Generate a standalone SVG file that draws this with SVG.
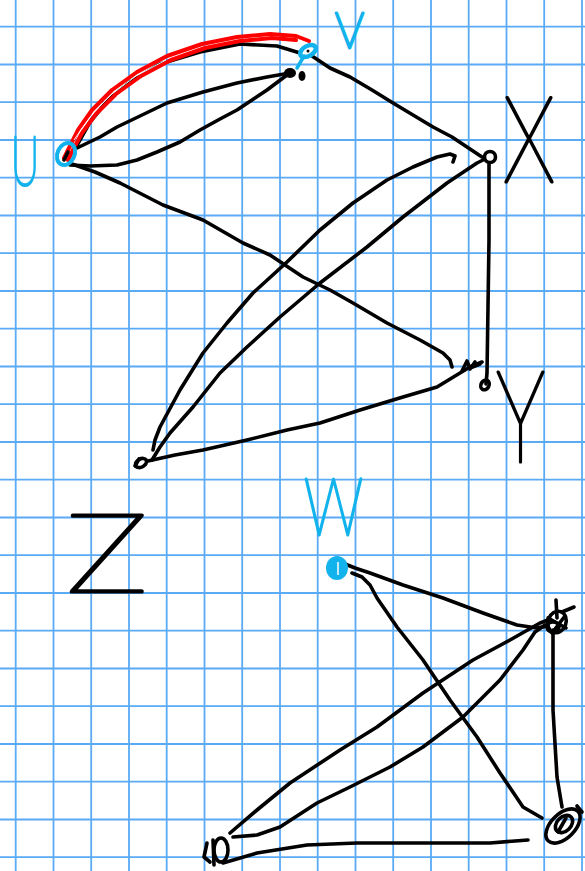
<svg xmlns="http://www.w3.org/2000/svg" width="585" height="871" viewBox="0 0 585 871">
<style>
.grid{stroke:#5aaaf5;stroke-width:1.8;fill:none}
.ink{stroke:#000;stroke-width:3.6;fill:none;stroke-linecap:round;stroke-linejoin:round}
.cy{stroke:#12b3ec;fill:none;stroke-linecap:round;stroke-linejoin:round}
.red{stroke:#ff0000;stroke-width:4;fill:none;stroke-linecap:round;stroke-linejoin:round}
.lbl{font-family:Lato,"Liberation Sans",sans-serif;font-weight:100;stroke-width:3.2;stroke-linejoin:round;stroke-linecap:round}
.lc{fill:#12b3ec;stroke:#12b3ec}
.lk{fill:#000;stroke:#000}
</style>
<rect width="585" height="871" fill="#fff"/>
<path class="grid" d="M15.7,0V871M53.5,0V871M91.2,0V871M129,0V871M166.7,0V871M204.5,0V871M242.2,0V871M280,0V871M317.7,0V871M355.5,0V871M393.2,0V871M431,0V871M468.7,0V871M506.5,0V871M544.2,0V871M582,0V871
M0,26.7H585M0,64.5H585M0,102.2H585M0,140H585M0,177.7H585M0,215.5H585M0,253.2H585M0,291H585M0,328.7H585M0,366.5H585M0,404.2H585M0,442H585M0,479.7H585M0,517.5H585M0,555.2H585M0,593H585M0,630.7H585M0,668.5H585M0,706.2H585M0,744H585M0,781.7H585M0,819.5H585M0,857.2H585"/>
<g id="connectors">
<path class="ink" d="M76,147 L90,122 L108,100 L130,82 L160,64 L200,52 L240,44 L277,46 L300,53"/>
<path class="red" d="M64,158 L70,146 L78,130 L92,110 L112,90 L137,72 L167,56 L202,44 L237,37 L270,34 L296,36 L309,41"/>
<path class="red" d="M68,160 L74,148 L82,133 L96,114 L116,94 L141,76 L171,60 L205,48 L240,41 L272,38 L296,40"/>
<path stroke="#fff" stroke-width="0.9" fill="none" d="M74,140 L82,128 L94,112 L112,94 L136,76 L166,60"/>
<path class="ink" d="M77,148 L100,137 L117,127 L140,116 L167,103 L203,92 L237,83 L267,77 L290,73"/>
<path class="ink" d="M70,165 L90,166 L117,165 L137,160 L157,152 L180,142 L200,130 L220,119 L237,110 L255,98 L267,90 L287,75"/>
<path class="ink" d="M312,56 L330,68 L350,77 L372,90 L393,103 L413,115 L433,127 L452,137 L467,147 L482,157"/>
<path class="ink" d="M72,164 L95,172 L120,183 L163,205 L203,220 L243,243 L270,255 L303,277 L330,290 L353,303 L387,323 L420,340 L443,353 L450,360 L452,367"/>
<path class="ink" d="M453,162 L455,156 L450,154 L437,157 L413,167 L387,180 L353,203 L320,230 L287,262 L253,293 L227,323 L203,353 L180,390 L160,427 L155,440 L153,450"/>
<path class="ink" d="M483,160 L477,163 L447,183 L403,217 L367,247 L320,283 L280,317 L247,347 L220,373 L193,407 L170,433 L160,447 L152,460"/>
<path class="ink" d="M148,461 L175,455 L203,450 L247,440 L287,430 L320,423 L360,410 L403,397 L437,387 L460,373 L470,367 L482,362"/>
<path class="ink" d="M489,164 L489,200 L489,240 L488,307 L487,373 L486,384"/>
<path class="ink" d="M340,562 L355,568 L370,573 L403,585 L443,598 L483,613 L517,625 L537,628 L548,626"/>
<path class="ink" d="M352,573 L362,577 L370,585 L377,598 L397,627 L423,660 L450,700 L477,737 L500,773 L523,807 L542,818"/>
<path class="ink" d="M548,620 L540,623 L510,640 L473,660 L423,693 L377,727 L340,750 L290,783 L257,810 L230,833"/>
<path class="ink" d="M545,625 L535,632 L523,650 L500,680 L463,717 L423,747 L390,767 L350,787 L317,803 L280,827 L257,835 L233,837"/>
<path class="ink" d="M553,630 L553,710 L557,777 L562,807"/>
<path class="ink" d="M223,863 L257,853 L307,845 L357,843 L490,843 L515,841 L528,840"/>
</g>
<g id="node-U">
<ellipse class="cy" stroke-width="4" cx="66" cy="154" rx="8.5" ry="11.5" transform="rotate(25 66 154)"/>
<path class="ink" stroke-width="2" d="M64,160 L68,152"/>
<text class="lbl lc" x="11" y="185" font-size="68" textLength="28" lengthAdjust="spacingAndGlyphs">U</text>
</g>
<g id="node-V">
<path class="cy" stroke-width="3.5" d="M297,68 L304,56"/>
<ellipse class="cy" stroke-width="4.5" cx="308" cy="51" rx="8.5" ry="5" transform="rotate(-30 308 51)"/>
<circle cx="308" cy="51" r="1.5" fill="#000"/>
<ellipse cx="290" cy="73" rx="6" ry="5" fill="#000"/>
<ellipse cx="302" cy="76" rx="3.5" ry="5" fill="#000"/>
<text class="lbl lc" x="335" y="48" font-size="50" textLength="29" lengthAdjust="spacingAndGlyphs">V</text>
</g>
<g id="node-X">
<circle class="ink" cx="490" cy="157" r="5.5"/>
<text class="lbl lk" x="503" y="182" font-size="120" textLength="52" lengthAdjust="spacingAndGlyphs">X</text>
</g>
<g id="node-Y">
<path class="ink" d="M462,371 L467,361 L470,369 L475,362 M480,364 L470,368"/>
<ellipse class="ink" cx="485" cy="385" rx="4" ry="5" transform="rotate(30 485 385)"/>
<text class="lbl lk" x="496" y="462" font-size="128" textLength="49" lengthAdjust="spacingAndGlyphs">Y</text>
</g>
<g id="node-Z">
<ellipse class="ink" cx="141" cy="463" rx="6" ry="4" transform="rotate(-30 141 463)"/>
<path class="ink" d="M135,466 L139,459"/>
<text class="lbl lk" x="66" y="592" font-size="110" textLength="82" lengthAdjust="spacingAndGlyphs">Z</text>
</g>
<g id="node-W">
<ellipse cx="337" cy="568" rx="11" ry="12" fill="#12b3ec"/>
<path stroke="#fff" stroke-width="1.5" d="M338,562 L338,575"/>
<text class="lbl lc" x="304" y="535" font-size="80" textLength="59" lengthAdjust="spacingAndGlyphs">W</text>
</g>
<g id="node-R">
<ellipse class="ink" cx="557" cy="622" rx="9" ry="11" transform="rotate(20 557 622)"/>
<ellipse class="ink" cx="553" cy="627" rx="6" ry="5"/>
<path class="ink" d="M556,600 L557,618 M574,607 L562,612 M548,618 L566,628 M552,633 L565,616"/>
</g>
<g id="node-S">
<ellipse class="ink" cx="563" cy="826" rx="21" ry="12" transform="rotate(-45 563 826)"/>
<ellipse class="ink" cx="564" cy="824" rx="10" ry="7" transform="rotate(-45 564 824)"/>
<path class="ink" d="M577,806 L582,812 M558,832 L566,818"/>
</g>
<g id="node-T">
<ellipse class="ink" cx="221" cy="850" rx="7" ry="12"/>
<path class="ink" d="M207,843 L204,857 L210,862 M213,840 L214,865"/>
</g>
</svg>
